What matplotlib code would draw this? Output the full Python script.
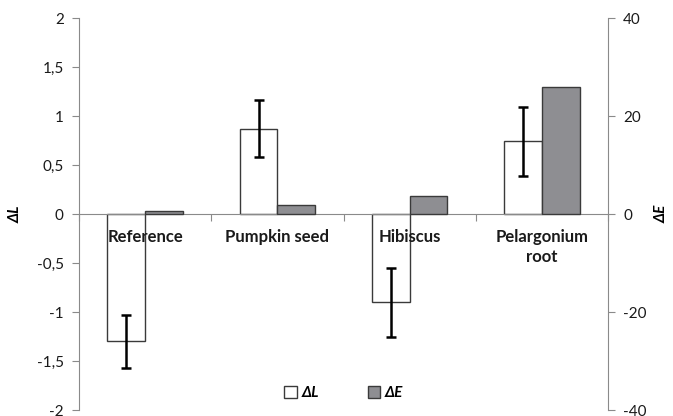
import numpy as np
import matplotlib
matplotlib.use('Agg')
import matplotlib.pyplot as plt
from matplotlib.ticker import FixedLocator, FuncFormatter

categories = ['Reference', 'Pumpkin seed', 'Hibiscus', 'Pelargonium\nroot']
delta_l = [-1.30, 0.87, -0.90, 0.74]
delta_l_err = [0.27, 0.29, 0.35, 0.35]
delta_e = [0.6, 1.8, 3.7, 26.0]

plt.rcParams['font.family'] = ['Lato', 'DejaVu Sans']
plt.rcParams['axes.unicode_minus'] = False

axis_grey = '#8a8a8a'
bar_grey = '#8e8e92'
edge = '#3a3a3a'

fig = plt.figure(figsize=(6.73, 4.16), dpi=100)
ax = fig.add_axes([79 / 673, 6 / 416, 529 / 673, 392 / 416])
ax2 = ax.twinx()

x = np.arange(len(categories))
w = 0.285

ax.bar(x - w / 2, delta_l, w, color='white', edgecolor=edge, linewidth=1.0,
       label='ΔL', zorder=2)
ax.errorbar(x - w / 2, delta_l, yerr=delta_l_err, fmt='none', ecolor='black',
            elinewidth=1.8, capsize=3.5, capthick=1.8, zorder=3)
ax2.bar(x + w / 2, delta_e, w, color=bar_grey, edgecolor=edge, linewidth=1.0,
        label='ΔE', zorder=2)

ax.set_xlim(-0.5, len(categories) - 0.5)
ax.set_ylim(-2, 2)
ax2.set_ylim(-40, 40)

ax.set_yticks(np.arange(-2, 2.01, 0.5))
ax.yaxis.set_major_formatter(FuncFormatter(
    lambda v, p: ('%g' % v).replace('.', ',')))
ax2.set_yticks([-40, -20, 0, 20, 40])

# category boundaries as tick marks, names written just under the zero line
ax.xaxis.set_major_locator(FixedLocator(np.arange(-0.5, len(categories), 1.0)))
ax.xaxis.set_major_formatter(FuncFormatter(lambda v, p: ''))
ax.tick_params(axis='x', which='major', length=5, color=axis_grey, direction='out')
for xi, name in zip(x, categories):
    ax.annotate(name, xy=(xi, 0), xytext=(0, -11), textcoords='offset points',
                ha='center', va='top', fontsize=12, fontweight='bold',
                color='#1a1a1a', linespacing=1.3, zorder=5)

for a in (ax, ax2):
    a.spines['top'].set_visible(False)
    for s in ('left', 'right', 'bottom'):
        a.spines[s].set_color(axis_grey)
    a.tick_params(axis='y', length=5, color=axis_grey, labelsize=11,
                  labelcolor='#1a1a1a', pad=6)
ax.spines['bottom'].set_position(('data', 0))
ax2.spines['bottom'].set_visible(False)
ax.spines['right'].set_visible(False)
ax2.spines['left'].set_visible(False)
ax.set_axisbelow(False)

ax.set_ylabel('ΔL', fontsize=11, fontweight='bold', fontstyle='italic', labelpad=10)
ax2.set_ylabel('ΔE', fontsize=11, fontweight='bold', fontstyle='italic', labelpad=6)

h1, l1 = ax.get_legend_handles_labels()
h2, l2 = ax2.get_legend_handles_labels()
leg = ax2.legend(h1 + h2, l1 + l2, loc='lower center', bbox_to_anchor=(0.5, -0.01),
                 ncol=2, frameon=False, handlelength=0.8, handleheight=0.8,
                 handletextpad=0.3, columnspacing=3.2,
                 prop={'weight': 'bold', 'style': 'italic', 'size': 11})

fig.savefig('out.png', dpi=100)
